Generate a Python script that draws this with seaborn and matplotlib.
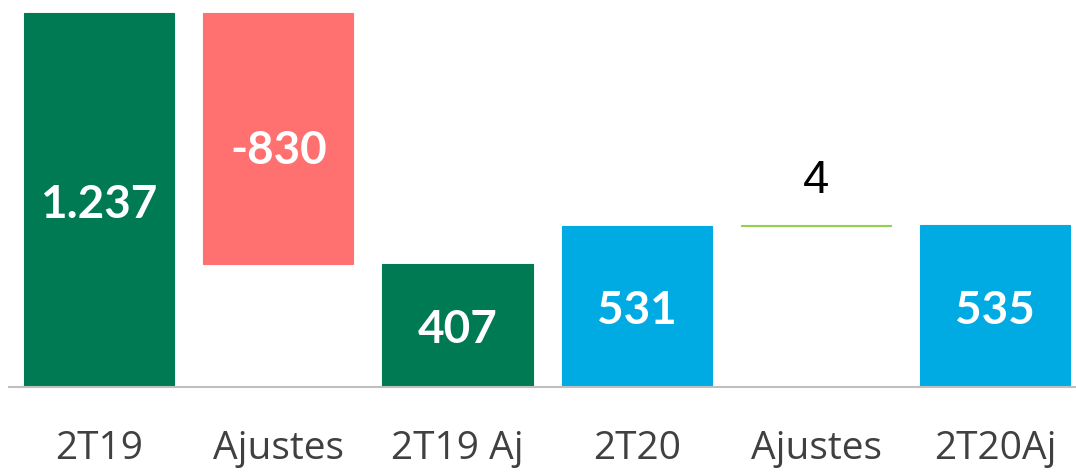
import matplotlib
matplotlib.use("Agg")
import matplotlib.pyplot as plt
import seaborn as sns
import pandas as pd

# --- Data ---
categories = ["2T19", "Ajustes", "2T19 Aj", "2T20", "Ajustes ", "2T20Aj"]
tick_labels = ["2T19", "Ajustes", "2T19 Aj", "2T20", "Ajustes", "2T20Aj"]
values = [1237, -830, 407, 531, 4, 535]
value_labels = ["1.237", "-830", "407", "531", "4", "535"]
is_total = [True, False, True, True, False, True]

colors = ["#007A53", "#FF7070", "#007A53", "#00ABE3", "#92D050", "#00ABE3"]
label_colors = ["white", "white", "white", "white", "black", "white"]

# waterfall: floating bars start from the running total
bottoms, heights = [], []
running = 0
for v, tot in zip(values, is_total):
    if tot:
        bottoms.append(0)
        heights.append(v)
        running = v
    else:
        start = running + min(v, 0)
        bottoms.append(start)
        heights.append(abs(v))
        running = running + v

df = pd.DataFrame({"cat": categories, "height": heights})

sns.set_style("white")
fig = plt.figure(figsize=(10.76, 4.72), dpi=100)
ax = fig.add_axes([0.0087, 0.1801, 0.9996, 0.8199])

sns.barplot(data=df, x="cat", y="height", order=categories, width=0.837,
            bottom=bottoms, color=colors[0], ax=ax, saturation=1)
for patch, c in zip(ax.patches, colors):
    patch.set_facecolor(c)
    patch.set_edgecolor(c)
    patch.set_linewidth(0.8)

ax.set_ylim(0, 1280)
ax.set_xlim(-0.5, 5.5)

for i, (b, h, lab, lc, tot) in enumerate(zip(bottoms, heights, value_labels, label_colors, is_total)):
    if h < 50:
        ax.text(i, b + h + 145, lab, ha="center", va="center", color=lc,
                fontsize=34, family="Liberation Sans")
    else:
        y = b + h / 2 - 15
        if not tot:
            y = b + h * 0.45
        ax.text(i, y, lab, ha="center", va="center", color=lc,
                fontsize=33, fontweight="bold", family="Lato")

ax.set_xticks(range(len(categories)))
ax.set_xticklabels(tick_labels, fontsize=28, color="#404040", family="Open Sans")
ax.tick_params(axis="x", length=0, pad=31)
ax.set_yticks([])
ax.set_xlabel("")
ax.set_ylabel("")
for side in ["top", "right", "left"]:
    ax.spines[side].set_visible(False)
ax.spines["bottom"].set_color("#BFBFBF")
ax.spines["bottom"].set_linewidth(1.5)

fig.savefig("out.png", dpi=100, facecolor="white")
